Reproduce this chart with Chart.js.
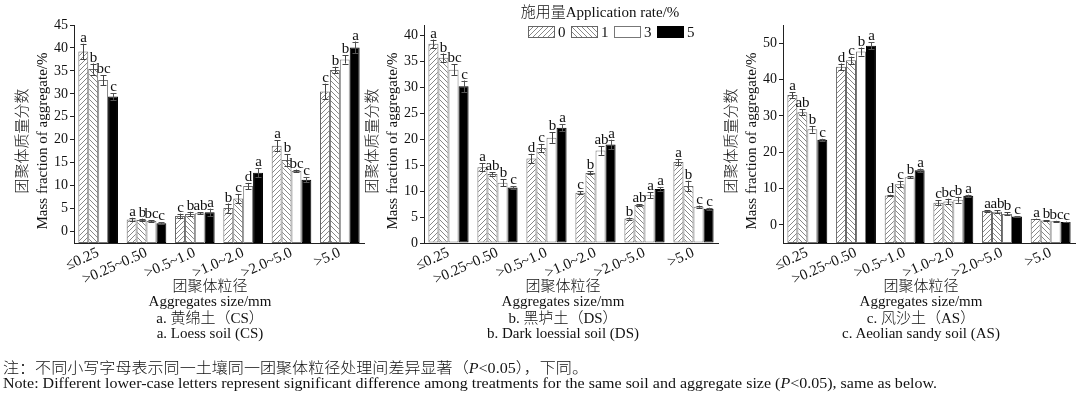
<!DOCTYPE html>
<html><head><meta charset="utf-8">
<script src="https://cdn.jsdelivr.net/npm/chart.js@4.4.1/dist/chart.umd.min.js"></script>
<style>
html,body{margin:0;padding:0;background:#fff;width:1080px;height:397px;overflow:hidden;}
canvas{position:absolute;left:0;top:0;}
.t{position:absolute;white-space:nowrap;font-family:"Liberation Serif","Noto Sans CJK SC",serif;font-weight:300;font-size:15px;color:#111;line-height:1;transform:translate(-50%,-50%);}
.n{position:absolute;white-space:nowrap;font-family:"Liberation Serif","Noto Sans CJK SC",serif;font-weight:300;font-size:15px;color:#111;line-height:1;transform-origin:0 50%;}
</style></head><body>
<canvas id="c1" width="1080" height="397"></canvas>
<canvas id="c2" width="1080" height="397"></canvas>
<canvas id="c3" width="1080" height="397"></canvas>

<div class="t" style="left:210px;top:286px">团聚体粒径</div>
<div class="t" style="left:210px;top:301px">Aggregates size/mm</div>
<div class="t" style="left:210px;top:318px">a. 黄绵土（CS）</div>
<div class="t" style="left:210px;top:333px">a. Loess soil (CS)</div>
<div class="t" style="left:563px;top:286px">团聚体粒径</div>
<div class="t" style="left:563px;top:301px">Aggregates size/mm</div>
<div class="t" style="left:563px;top:318px">b. 黑垆土（DS）</div>
<div class="t" style="left:563px;top:333px">b. Dark loessial soil (DS)</div>
<div class="t" style="left:921px;top:286px">团聚体粒径</div>
<div class="t" style="left:921px;top:301px">Aggregates size/mm</div>
<div class="t" style="left:921px;top:318px">c. 风沙土（AS）</div>
<div class="t" style="left:921px;top:333px">c. Aeolian sandy soil (AS)</div>
<div class="n" id="n1" data-w="585" style="left:3px;top:361px">注：不同小写字母表示同一土壤同一团聚体粒径处理间差异显著（<i>P</i>&lt;0.05），下同。</div>
<div class="n" id="n2" data-w="934" style="left:3px;top:376px">Note: Different lower-case letters represent significant difference among treatments for the same soil and aggregate size (<i>P</i>&lt;0.05), same as below.</div>

<script>
// ---------------- DATA ----------------
const categories = ['≤0.25', '>0.25~0.50', '>0.5~1.0', '>1.0~2.0', '>2.0~5.0', '>5.0'];
const rateLabels = ['0', '1', '3', '5'];

// a. Loess soil (CS)
const cs0 = [39.2, 2.6, 3.4, 5.1, 18.7, 30.5];
const cs1 = [35.4, 2.5, 3.8, 7.2, 15.6, 35.2];
const cs3 = [33.0, 2.3, 4.0, 9.9, 13.2, 37.5];
const cs5 = [29.4, 1.8, 4.2, 12.8, 11.3, 40.1];
const csE0 = [1.7, 0.4, 0.5, 1.0, 1.2, 1.7];
const csE1 = [1.2, 0.3, 0.5, 1.0, 1.3, 0.7];
const csE3 = [1.1, 0.2, 0.2, 0.7, 0.3, 0.9];
const csE5 = [0.7, 0.2, 0.8, 1.0, 0.6, 1.3];
const csL0 = ['a', 'a', 'c', 'b', 'a', 'c'];
const csL1 = ['b', 'b', 'b', 'c', 'b', 'b'];
const csL3 = ['bc', 'bc', 'ab', 'd', 'bc', 'b'];
const csL5 = ['c', 'c', 'a', 'a', 'c', 'a'];
const csTicks = [0, 5, 10, 15, 20, 25, 30, 35, 40, 45];

// b. Dark loessial soil (DS)
const ds0 = [38.4, 14.6, 16.3, 9.7, 4.7, 15.6];
const ds1 = [35.7, 13.3, 18.3, 13.5, 7.3, 11.0];
const ds3 = [33.4, 11.6, 20.3, 17.8, 9.2, 7.0];
const ds5 = [30.2, 10.7, 22.2, 19.0, 10.4, 6.6];
const dsE0 = [0.8, 0.8, 0.9, 0.3, 0.2, 0.6];
const dsE1 = [0.8, 0.3, 0.8, 0.3, 0.2, 1.0];
const dsE3 = [1.0, 0.7, 1.0, 0.8, 0.6, 0.2];
const dsE5 = [1.1, 0.2, 0.7, 0.9, 0.3, 0.2];
const dsL0 = ['a', 'a', 'd', 'c', 'b', 'a'];
const dsL1 = ['b', 'ab', 'c', 'b', 'ab', 'b'];
const dsL3 = ['bc', 'b', 'b', 'ab', 'a', 'c'];
const dsL5 = ['c', 'c', 'a', 'a', 'a', 'c'];
const dsTicks = [0, 5, 10, 15, 20, 25, 30, 35, 40];

// c. Aeolian sandy soil (AS)
const as0 = [35.7, 43.5, 8.1, 6.1, 3.8, 1.6];
const as1 = [31.0, 45.3, 11.2, 6.4, 3.6, 1.2];
const as3 = [26.3, 47.7, 13.1, 6.9, 3.0, 1.0];
const as5 = [23.4, 49.3, 15.0, 8.0, 2.3, 0.8];
const asE0 = [0.8, 0.9, 0.2, 0.6, 0.2, 0.1];
const asE1 = [0.8, 1.0, 0.9, 0.8, 0.4, 0.1];
const asE3 = [0.9, 1.1, 0.3, 0.8, 0.4, 0.1];
const asE5 = [0.3, 1.0, 0.5, 0.3, 0.1, 0.1];
const asL0 = ['a', 'd', 'd', 'c', 'a', 'a'];
const asL1 = ['ab', 'c', 'c', 'bc', 'ab', 'b'];
const asL3 = ['b', 'b', 'b', 'b', 'b', 'bc'];
const asL5 = ['c', 'a', 'a', 'a', 'c', 'c'];
const asTicks = [0, 10, 20, 30, 40, 50];

// --------------- STYLE / LAYOUT ---------------
const FAM = '"Liberation Serif", "Noto Sans CJK SC", serif';
const INK = '#111';
const W = 1080, H = 397, YW = 40, XH = 40, TOP = 25, BOTTOM = 243;

function hatch(ctx, dir) {
  const s = 5;
  const c = document.createElement('canvas');
  c.width = s; c.height = s;
  const g = c.getContext('2d');
  g.fillStyle = '#fff'; g.fillRect(0, 0, s, s);
  g.strokeStyle = '#7a7a7a'; g.lineWidth = 0.9;
  g.beginPath();
  if (dir > 0) {
    g.moveTo(0, s); g.lineTo(s, 0);
    g.moveTo(-1, 1); g.lineTo(1, -1);
    g.moveTo(s - 1, s + 1); g.lineTo(s + 1, s - 1);
  } else {
    g.moveTo(0, 0); g.lineTo(s, s);
    g.moveTo(s - 1, -1); g.lineTo(s + 1, 1);
    g.moveTo(-1, s - 1); g.lineTo(1, s + 1);
  }
  g.stroke();
  return ctx.createPattern(c, 'repeat');
}

const errPlugin = {
  id: 'errLetters',
  afterDatasetsDraw(chart) {
    const ctx = chart.ctx, ys = chart.scales.y;
    ctx.save();
    chart.data.datasets.forEach((ds, i) => {
      const meta = chart.getDatasetMeta(i);
      meta.data.forEach((el, j) => {
        const v = ds.data[j], e = ds.errors[j];
        const x = Math.round(el.x) + 0.5;
        const yt = ys.getPixelForValue(v + e), yb = ys.getPixelForValue(v - e);
        ctx.strokeStyle = i === 3 ? '#555' : '#444';
        ctx.lineWidth = 1;
        ctx.beginPath();
        ctx.moveTo(x, yt); ctx.lineTo(x, yb);
        ctx.moveTo(x - 3, Math.round(yt) + 0.5); ctx.lineTo(x + 3, Math.round(yt) + 0.5);
        ctx.moveTo(x - 3, Math.round(yb) + 0.5); ctx.lineTo(x + 3, Math.round(yb) + 0.5);
        ctx.stroke();
        ctx.fillStyle = INK;
        ctx.font = '15px ' + FAM;
        ctx.textAlign = 'center';
        ctx.textBaseline = 'alphabetic';
        ctx.fillText(ds.letters[j], x, yt - 2);
      });
    });
    // y-axis title (two lines)
    const ca = chart.chartArea;
    const cy = 141;
    ctx.fillStyle = INK;
    ctx.font = '300 15px ' + FAM;
    ctx.textAlign = 'center';
    ctx.textBaseline = 'middle';
    [['团聚体质量分数', ca.left - 51], ['Mass fraction of aggregate/%', ca.left - 31]].forEach(([txt, x]) => {
      ctx.save();
      ctx.translate(x, cy);
      ctx.rotate(-Math.PI / 2);
      ctx.fillText(txt, 0, 0);
      ctx.restore();
    });
    ctx.restore();
  }
};

const legendPlugin = {
  id: 'manualLegend',
  afterDraw(chart) {
    const ctx = chart.ctx;
    ctx.save();
    ctx.fillStyle = INK;
    ctx.font = '300 15px ' + FAM;
    ctx.textAlign = 'center';
    ctx.textBaseline = 'middle';
    ctx.fillText('施用量Application rate/%', 600, 13);
    const xs = [528, 571, 614, 657];
    chart.data.datasets.forEach((ds, i) => {
      const x = xs[i];
      ctx.fillStyle = ds.backgroundColor;
      ctx.fillRect(x, 26, 27, 12);
      ctx.strokeStyle = ds.borderColor;
      ctx.lineWidth = 1;
      ctx.strokeRect(x + 0.5, 26.5, 26, 11);
      ctx.fillStyle = INK;
      ctx.textAlign = 'left';
      ctx.fillText(rateLabels[i], x + 30, 33);
    });
    ctx.restore();
  }
};

function makeChart(id, series, errs, lets, ticks, min, max, left, right, extraPlugins) {
  const canvas = document.getElementById(id);
  const ctx = canvas.getContext('2d');
  const fills = [hatch(ctx, 1), hatch(ctx, -1), '#ffffff', '#000000'];
  const borders = ['#666', '#666', '#777', '#000'];
  return new Chart(ctx, {
    type: 'bar',
    data: {
      labels: categories,
      datasets: series.map((d, i) => ({
        label: rateLabels[i],
        data: d,
        errors: errs[i],
        letters: lets[i],
        base: min,
        backgroundColor: fills[i],
        borderColor: borders[i],
        borderWidth: 1,
        borderSkipped: false,
        categoryPercentage: 0.82,
        barPercentage: 1.0
      }))
    },
    options: {
      responsive: false,
      animation: false,
      events: [],
      layout: { padding: { left: left - YW, right: W - right, top: TOP, bottom: H - BOTTOM - XH } },
      plugins: { legend: { display: false }, tooltip: { enabled: false } },
      scales: {
        x: {
          afterFit: ax => { ax.height = XH; },
          ticks: { autoSkip: false, minRotation: 24, maxRotation: 24, padding: 1,
                   font: { family: FAM, size: 15 }, color: INK },
          grid: { display: false, drawTicks: false, tickLength: 0 },
          border: { display: true, color: '#222', width: 1 }
        },
        y: {
          min: min, max: max,
          afterBuildTicks: ax => { ax.ticks = ticks.map(v => ({ value: v })); },
          afterFit: ax => { ax.width = YW; },
          ticks: { padding: 2, font: { family: FAM, size: 14 }, color: INK },
          grid: { display: true, drawOnChartArea: false, drawTicks: true, tickLength: 4, color: '#222' },
          border: { display: true, color: '#222', width: 1 }
        }
      }
    },
    plugins: [errPlugin].concat(extraPlugins || [])
  });
}

makeChart('c1', [cs0, cs1, cs3, cs5], [csE0, csE1, csE3, csE5], [csL0, csL1, csL3, csL5], csTicks, -2.5, 45, 74, 364);
makeChart('c2', [ds0, ds1, ds3, ds5], [dsE0, dsE1, dsE3, dsE5], [dsL0, dsL1, dsL3, dsL5], dsTicks, 0, 42, 424, 718, [legendPlugin]);
makeChart('c3', [as0, as1, as3, as5], [asE0, asE1, asE3, asE5], [asL0, asL1, asL3, asL5], asTicks, -5, 55, 783, 1075);

function fitNotes() {
  document.querySelectorAll('.n').forEach(el => {
    el.style.transform = 'none';
    const w = el.getBoundingClientRect().width;
    const target = +el.dataset.w;
    el.style.transform = 'scaleX(' + (target / w) + ')';
  });
}
fitNotes();
if (document.fonts && document.fonts.ready) document.fonts.ready.then(fitNotes);
</script>
</body></html>
